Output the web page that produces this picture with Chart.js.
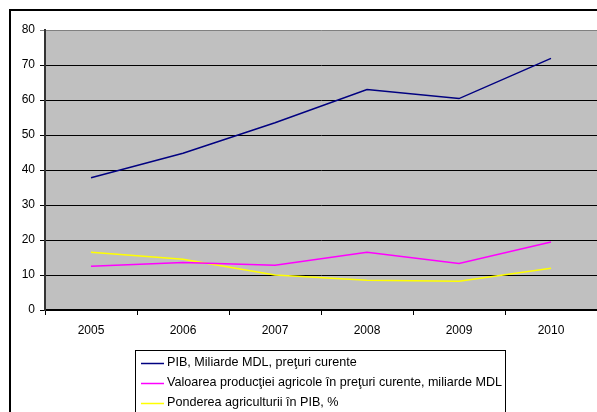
<!DOCTYPE html>
<html>
<head>
<meta charset="utf-8">
<script src="https://cdn.jsdelivr.net/npm/chart.js@4/dist/chart.umd.min.js"></script>
<style>
  html, body { margin: 0; padding: 0; background: #fff; }
  #wrap { position: relative; width: 597px; height: 412px; overflow: hidden; }
  canvas { display: block; }
</style>
</head>
<body>
<div id="wrap"><canvas id="c" width="597" height="412"></canvas></div>
<script>
// Years shown on the category axis
const years = ['2005', '2006', '2007', '2008', '2009', '2010'];

// PIB, miliarde MDL, preţuri curente
const pib = [37.8, 44.8, 53.5, 63.0, 60.4, 71.9];
// Valoarea producţiei agricole în preţuri curente, miliarde MDL
const agroValue = [12.5, 13.6, 12.8, 16.5, 13.3, 19.4];
// Ponderea agriculturii în PIB, %
const agroShare = [16.5, 14.5, 10.0, 8.5, 8.2, 11.9];

const seriesLabels = [
  'PIB, Miliarde MDL, preţuri curente',
  'Valoarea producţiei agricole în preţuri curente, miliarde MDL',
  'Ponderea agriculturii în PIB, %'
];
const seriesColors = ['#000080', '#FF00FF', '#FFFF00'];

const FONT = '"Liberation Sans", Arial, sans-serif';

// Grey plotting area behind the lines
const plotBackground = {
  id: 'plotBackground',
  beforeDraw(chart) {
    const { ctx, chartArea: a } = chart;
    ctx.save();
    ctx.fillStyle = '#C0C0C0';
    ctx.fillRect(a.left, a.top, a.right - a.left, a.bottom - a.top);
    ctx.restore();
  }
};

// Outer frame and the boxed legend under the plot
const frameAndLegend = {
  id: 'frameAndLegend',
  afterDraw(chart) {
    const ctx = chart.ctx;
    ctx.save();
    // outer frame
    ctx.strokeStyle = '#000';
    ctx.lineWidth = 2;
    ctx.strokeRect(10, 10, 700, 500);

    // legend box
    ctx.fillStyle = '#fff';
    ctx.fillRect(135.5, 350.5, 370, 80);
    ctx.strokeStyle = '#000';
    ctx.lineWidth = 1;
    ctx.strokeRect(135.5, 350.5, 370, 80);

    ctx.font = '12.6px ' + FONT;
    ctx.textBaseline = 'middle';
    ctx.textAlign = 'left';
    chart.data.datasets.forEach((ds, i) => {
      const y = 363 + i * 20;
      ctx.strokeStyle = ds.borderColor;
      ctx.lineWidth = 1.5;
      ctx.beginPath();
      ctx.moveTo(141, y + 0.5);
      ctx.lineTo(164, y + 0.5);
      ctx.stroke();
      ctx.fillStyle = '#000';
      ctx.fillText(ds.label, 167, y);
    });
    ctx.restore();
  }
};

const seriesData = [pib, agroValue, agroShare];

new Chart(document.getElementById('c'), {
  type: 'line',
  data: {
    labels: years,
    datasets: seriesData.map((d, i) => ({
      label: seriesLabels[i],
      data: d,
      borderColor: seriesColors[i],
      backgroundColor: seriesColors[i],
      borderWidth: 1.5,
      pointRadius: 0,
      tension: 0,
      fill: false
    }))
  },
  options: {
    responsive: false,
    animation: false,
    devicePixelRatio: 1,
    layout: { padding: { top: 30, right: 0, bottom: 0, left: 0 } },
    plugins: {
      legend: { display: false },
      tooltip: { enabled: false }
    },
    scales: {
      x: {
        type: 'category',
        offset: true,
        afterFit(scale) { scale.height = 102; },
        grid: {
          offset: true,
          drawOnChartArea: false,
          drawTicks: true,
          tickLength: 5,
          color: '#000',
          lineWidth: 1
        },
        border: { color: '#000', width: 2 },
        ticks: {
          color: '#000',
          padding: 8,
          maxRotation: 0,
          font: { family: FONT, size: 12 }
        }
      },
      y: {
        min: 0,
        max: 80,
        afterFit(scale) { scale.width = 45; },
        grid: {
          color: (c) => (c.tick && c.tick.value === 80 ? '#808080' : '#000'),
          lineWidth: 1,
          tickLength: 5,
          drawTicks: true
        },
        border: { color: '#333', width: 2 },
        ticks: {
          stepSize: 10,
          color: '#000',
          padding: 5,
          font: { family: FONT, size: 12 }
        }
      }
    }
  },
  plugins: [plotBackground, frameAndLegend]
});
</script>
</body>
</html>
